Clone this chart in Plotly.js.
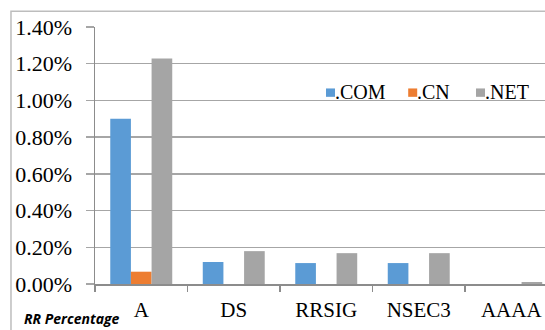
<!DOCTYPE html>
<html><head><meta charset="utf-8">
<script src="https://cdn.plot.ly/plotly-3.0.1.min.js"></script>
<style>html,body{margin:0;padding:0;background:#fff;}#chart{width:545px;height:330px;}</style>
</head><body><div id="chart"></div>
<script>
const categories = ['A', 'DS', 'RRSIG', 'NSEC3', 'AAAA'];
const seriesNames = ['.COM', '.CN', '.NET'];
const comValues = [0.90, 0.12, 0.114, 0.114, 0.0];
const cnValues = [0.067, 0.0, 0.0, 0.0, 0.0];
const netValues = [1.228, 0.179, 0.168, 0.168, 0.011];
const yTickVals = [0, 0.2, 0.4, 0.6, 0.8, 1.0, 1.2, 1.4];
const yTickText = ['0.00%', '0.20%', '0.40%', '0.60%', '0.80%', '1.00%', '1.20%', '1.40%'];

const colors = ['#5B9BD5', '#ED7D31', '#A5A5A5'];
const data = [comValues, cnValues, netValues].map((v, i) => ({
  type: 'bar', x: categories, y: v, name: seriesNames[i],
  marker: {color: colors[i]}, hoverinfo: 'none', showlegend: false
}));

const serif = '"Liberation Serif", serif';

// Hand-placed legend (Excel style: small square directly against the label)
const legendSquareX = [0.5133, 0.696, 0.8467];
const legendSq = 0.02;
const legendShapes = seriesNames.map((n, i) => ({
  type: 'rect', xref: 'paper', yref: 'paper',
  x0: legendSquareX[i], x1: legendSquareX[i] + legendSq, y0: 0.7283, y1: 0.7609,
  line: {width: 0}, fillcolor: colors[i]
}));
const legendTexts = seriesNames.map((n, i) => ({
  text: n, xref: 'paper', yref: 'paper',
  x: legendSquareX[i] + legendSq - 0.004, y: 0.747, xanchor: 'left', yanchor: 'middle',
  showarrow: false, font: {family: serif, size: 20, color: '#000'}
}));

const layout = {
  width: 545, height: 330,
  margin: {l: 95, r: 0, t: 27, b: 46, autoexpand: false},
  paper_bgcolor: '#fff', plot_bgcolor: '#fff',
  barmode: 'group', bargap: 0.33, bargroupgap: 0,
  font: {family: serif, color: '#000', size: 20},
  showlegend: false,
  xaxis: {
    range: [-0.5, 4.365], showgrid: false, showline: true, linecolor: '#8c8c8c', linewidth: 2,
    ticks: 'outside', tickson: 'boundaries', ticklen: 6, tickcolor: '#8c8c8c', tickwidth: 1.5,
    ticklabelstandoff: 6,
    tickfont: {family: serif, size: 21, color: '#000'}, zeroline: false, fixedrange: true, automargin: false
  },
  yaxis: {
    range: [0, 1.4], tickmode: 'array', tickvals: yTickVals, ticktext: yTickText,
    showgrid: true, gridcolor: '#a6a6a6', gridwidth: 1.5,
    showline: true, linecolor: '#8c8c8c', linewidth: 1.5,
    ticks: 'outside', ticklen: 8, tickcolor: '#a6a6a6', tickwidth: 1.5,
    ticklabelstandoff: 9,
    tickfont: {family: serif, size: 22, color: '#000'}, zeroline: false, fixedrange: true, automargin: false
  },
  shapes: [{
    type: 'rect', xref: 'paper', yref: 'paper',
    x0: -0.1867, x1: 1.5, y0: -0.5, y1: 1.061,
    line: {color: '#bdbdbd', width: 1.5}, fillcolor: 'rgba(0,0,0,0)', layer: 'below'
  }].concat(legendShapes),
  annotations: [{
    text: '<b><i>RR Percentage</i></b>', xref: 'paper', yref: 'paper',
    x: -0.1618, y: -0.135, xanchor: 'left', yanchor: 'middle', showarrow: false,
    font: {family: 'Open Sans', size: 14, color: '#000'}
  }].concat(legendTexts)
};
Plotly.newPlot('chart', data, layout, {staticPlot: true, displayModeBar: false});
</script></body></html>
